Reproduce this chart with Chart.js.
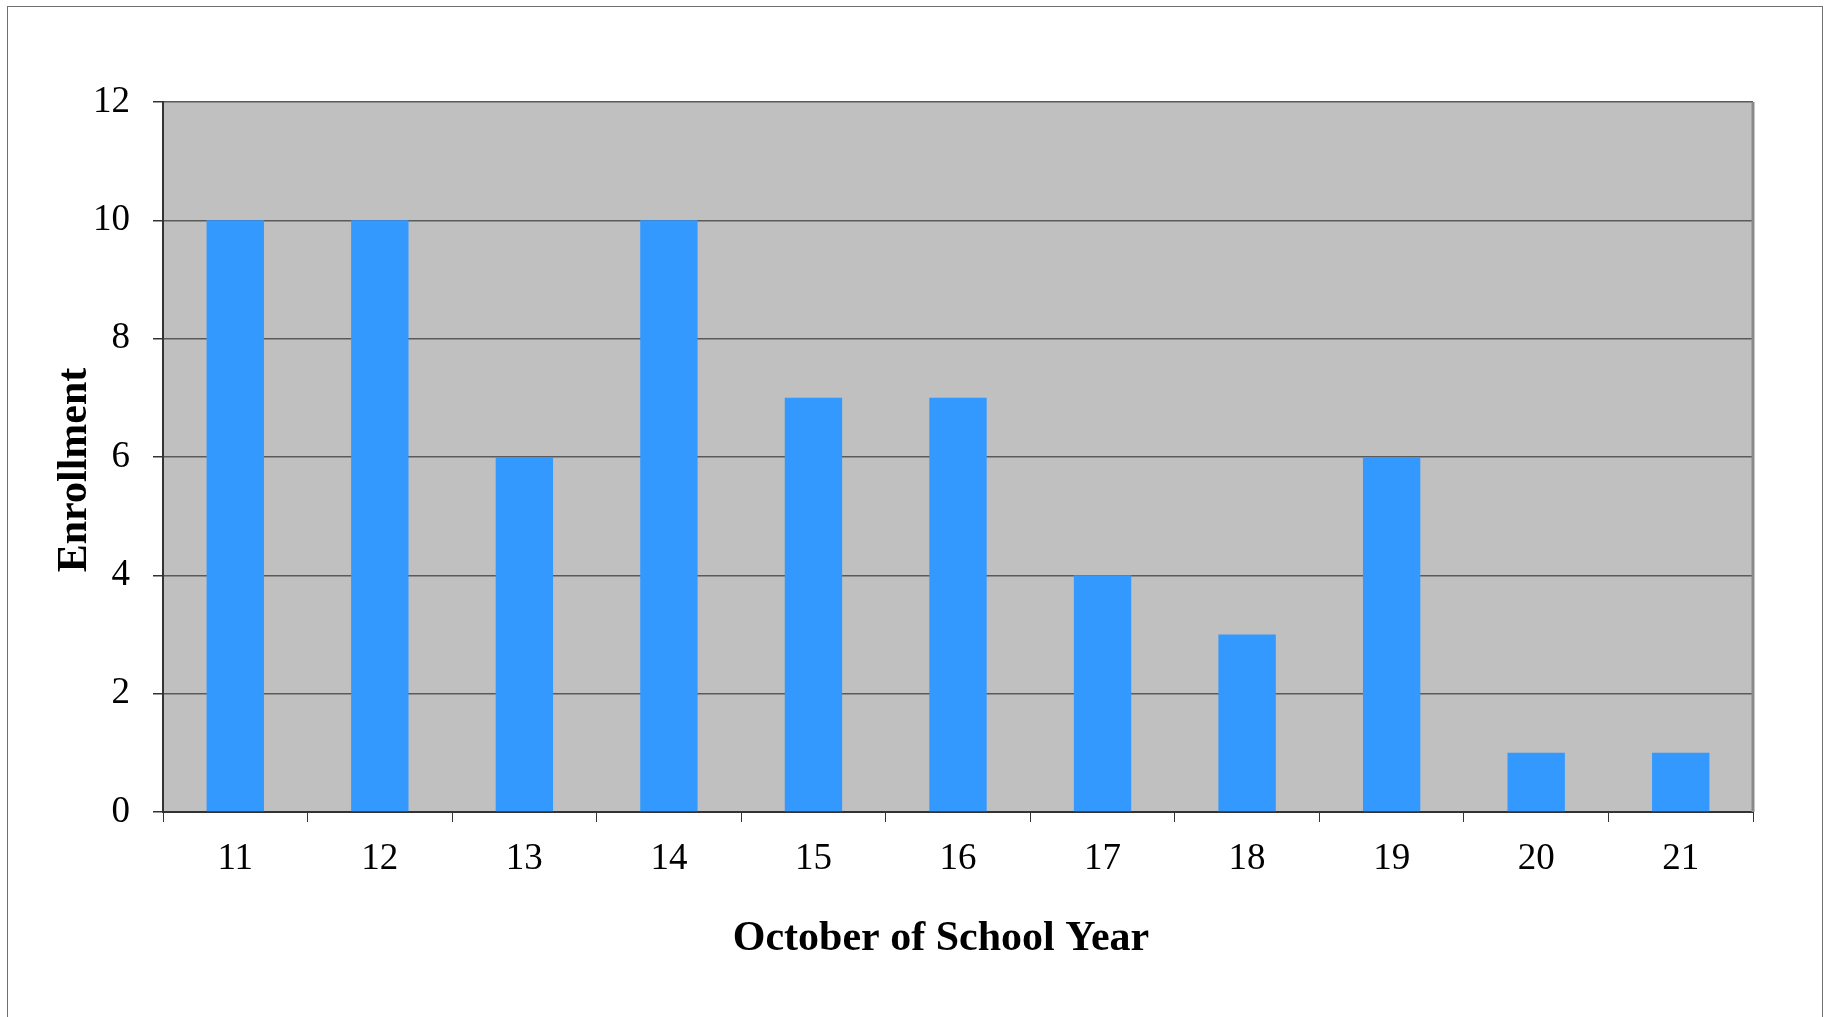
<!DOCTYPE html>
<html>
<head>
<meta charset="utf-8">
<script src="https://cdn.jsdelivr.net/npm/chart.js@4/dist/chart.umd.min.js"></script>
<style>
  html, body { margin: 0; padding: 0; background: #ffffff; overflow: hidden; }
  #wrap { position: relative; width: 1831px; height: 1017px; }
  #frame { position: absolute; left: 7px; top: 6px; width: 1814px; height: 1100px;
           border: 1.5px solid #707070; pointer-events: none; }
  canvas { position: absolute; left: 0; top: 0; }
</style>
</head>
<body>
<div id="wrap">
  <canvas id="c" width="1831" height="1017"></canvas>
  <div id="frame"></div>
</div>
<script>
const categories = ['11', '12', '13', '14', '15', '16', '17', '18', '19', '20', '21'];
const enrollment = [10, 10, 6, 10, 7, 7, 4, 3, 6, 1, 1];
const yTicks = [0, 2, 4, 6, 8, 10, 12];
const xTitle = 'October of School Year';
const yTitle = 'Enrollment';

const plotDecor = {
  id: 'plotDecor',
  beforeDraw(chart) {
    const {ctx, chartArea: a} = chart;
    ctx.save();
    ctx.fillStyle = '#C0C0C0';
    ctx.fillRect(a.left, a.top, a.right - a.left, a.bottom - a.top);
    ctx.restore();
  },
  afterDraw(chart) {
    const {ctx, chartArea: a} = chart;
    ctx.save();
    ctx.strokeStyle = '#8a8a8a';
    ctx.lineWidth = 3;
    ctx.beginPath();
    ctx.moveTo(a.right, a.top);
    ctx.lineTo(a.right, a.bottom);
    ctx.stroke();
    ctx.fillStyle = '#000';
    ctx.font = 'bold 42px "Liberation Serif", "Times New Roman", serif';
    ctx.textAlign = 'center';
    ctx.textBaseline = 'middle';
    ctx.fillText(xTitle, 941, 939);
    ctx.translate(75, 470);
    ctx.rotate(-Math.PI / 2);
    ctx.fillText(yTitle, 0, 0);
    ctx.restore();
  }
};

new Chart(document.getElementById('c'), {
  type: 'bar',
  data: {
    labels: categories,
    datasets: [{
      data: enrollment,
      backgroundColor: '#3399FF',
      borderWidth: 0,
      categoryPercentage: 1,
      barPercentage: 0.397
    }]
  },
  options: {
    responsive: false,
    animation: false,
    devicePixelRatio: 1,
    layout: { padding: { left: 0, top: 102, right: 78, bottom: 0 } },
    plugins: { legend: { display: false }, tooltip: { enabled: false }, title: { display: false } },
    scales: {
      x: {
        offset: true,
        afterFit(scale) { scale.height = 205; },
        grid: { display: true, drawOnChartArea: false, drawTicks: true, tickLength: 10, color: '#333', offset: true },
        border: { display: true, color: '#333', width: 2 },
        ticks: {
          color: '#000',
          padding: 15,
          font: { family: '"Liberation Serif", "Times New Roman", serif', size: 37, lineHeight: 1.2 }
        }
      },
      y: {
        min: 0,
        max: 12,
        afterFit(scale) { scale.width = 163; },
        afterBuildTicks(scale) { scale.ticks = yTicks.map(v => ({ value: v })); },
        grid: { color: '#5a5a5a', lineWidth: 1.5, drawTicks: true, tickLength: 10, tickColor: '#333' },
        border: { display: true, color: '#333', width: 2 },
        ticks: {
          color: '#000',
          padding: 23,
          font: { family: '"Liberation Serif", "Times New Roman", serif', size: 37 }
        }
      }
    }
  },
  plugins: [plotDecor]
});
</script>
</body>
</html>
